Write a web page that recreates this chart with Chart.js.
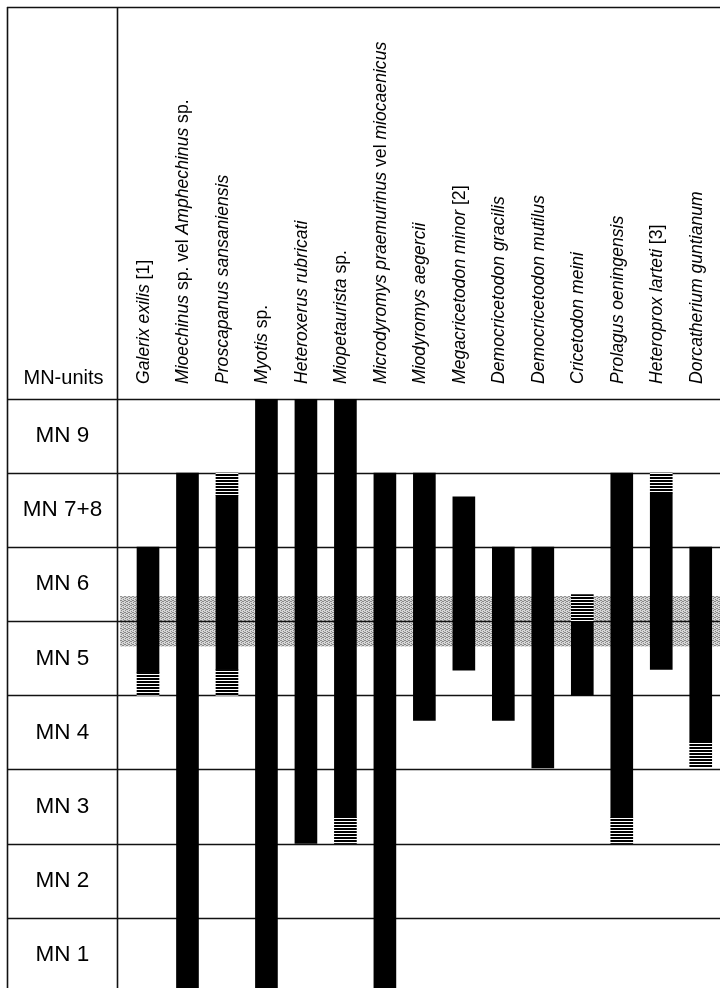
<!DOCTYPE html>
<html>
<head>
<meta charset="utf-8">
<script src="https://cdn.jsdelivr.net/npm/chart.js@4.4.1/dist/chart.umd.min.js"></script>
<style>
  html, body { margin: 0; padding: 0; background: #fff; overflow: hidden; }
  #wrap { width: 720px; height: 988px; position: relative; }
</style>
</head>
<body>
<div id="wrap"><canvas id="chart" width="720" height="988"></canvas></div>
<script>
// MN units, bottom to top: MN1 = 0..1, MN2 = 1..2, ... MN7+8 = 6..7, MN9 = 7..8
const mnUnits = ["MN 1", "MN 2", "MN 3", "MN 4", "MN 5", "MN 6", "MN 7+8", "MN 9"];

// taxon names as [text, italic] parts
const taxa = [
    [["Galerix exilis", true], [" [1]", false]],
    [["Mioechinus", true], [" sp. vel ", false], ["Amphechinus", true], [" sp.", false]],
    [["Proscapanus sansaniensis", true]],
    [["Myotis", true], [" sp.", false]],
    [["Heteroxerus rubricati", true]],
    [["Miopetaurista", true], [" sp.", false]],
    [["Microdyromys praemurinus", true], [" vel ", false], ["miocaenicus", true]],
    [["Miodyromys aegercii", true]],
    [["Megacricetodon minor", true], [" [2]", false]],
    [["Democricetodon gracilis", true]],
    [["Democricetodon mutilus", true]],
    [["Cricetodon meini", true]],
    [["Prolagus oeningensis", true]],
    [["Heteroprox larteti", true], [" [3]", false]],
    [["Dorcatherium guntianum", true]],
];

// certain range (solid black)
const rangeBottom = [4.31, 0, 4.35, 0, 2.0, 2.35, 0, 3.66, 4.34, 3.66, 3.02, 4.0, 2.35, 4.35, 3.37];
const rangeTop = [6.0, 7.0, 6.7, 8.0, 8.0, 8.0, 7.0, 7.0, 6.68, 6.0, 6.0, 5.0, 7.0, 6.73, 6.0];

// uncertain range ends (hatched)
const uncertainLow = [[4.0, 4.31], null, [4.0, 4.35], null, null, [2.0, 2.35], null, null, null, null, null, null, [2.0, 2.35], null, [3.03, 3.37]];
const uncertainHigh = [null, null, [6.7, 7.0], null, null, null, null, null, null, null, null, [5.0, 5.36], null, [6.73, 7.0], null];

// shaded MN5/MN6 boundary interval
const boundaryBand = [4.66, 5.34];

function makeHatch() {
    const c = document.createElement("canvas");
    c.width = 4;
    c.height = 3;
    const x = c.getContext("2d");
    x.fillStyle = "#fff";
    x.fillRect(0, 0, 4, 3);
    x.fillStyle = "#000";
    x.fillRect(0, 0, 4, 2);
    return x.createPattern(c, "repeat");
}

function makeStipple() {
    const c = document.createElement("canvas");
    c.width = 4;
    c.height = 4;
    const x = c.getContext("2d");
    x.fillStyle = "#d6d6d6";
    x.fillRect(0, 0, 4, 4);
    x.fillStyle = "#888";
    [[0, 0], [2, 1], [1, 2], [3, 3], [3, 1], [1, 0]].forEach((p) => x.fillRect(p[0], p[1], 1, 1));
    return x.createPattern(c, "repeat");
}

const FONT = "'Liberation Sans', Arial, sans-serif";

const tableFrame = {
    id: "tableFrame",
    beforeDatasetsDraw(chart) {
        const ctx = chart.ctx;
        const ys = chart.scales.y;
        const area = chart.chartArea;
        ctx.save();
        ctx.fillStyle = makeStipple();
        const bTop = ys.getPixelForValue(boundaryBand[1]);
        const bBot = ys.getPixelForValue(boundaryBand[0]);
        ctx.fillRect(area.left + 2, bTop, area.right - area.left, bBot - bTop);

        ctx.strokeStyle = "#111";
        ctx.lineWidth = 1.6;
        ctx.beginPath();
        for (let v = 1; v <= mnUnits.length; v++) {
            const py = Math.round(ys.getPixelForValue(v)) + 0.5;
            ctx.moveTo(7, py);
            ctx.lineTo(area.right, py);
        }
        ctx.moveTo(7, 7.5);
        ctx.lineTo(area.right, 7.5);
        ctx.moveTo(7.5, 7);
        ctx.lineTo(7.5, chart.height);
        ctx.moveTo(area.left - 0.5, 7);
        ctx.lineTo(area.left - 0.5, chart.height);
        ctx.stroke();
        ctx.restore();
    },
    afterDatasetsDraw(chart) {
        const ctx = chart.ctx;
        const xs = chart.scales.x;
        const ys = chart.scales.y;
        const colMid = (7 + chart.chartArea.left) / 2;
        ctx.save();
        ctx.fillStyle = "#000";
        ctx.textAlign = "center";
        ctx.textBaseline = "middle";
        ctx.font = "20px " + FONT;
        ctx.fillText("MN-units", colMid + 1, 378);
        ctx.font = "22.5px " + FONT;
        mnUnits.forEach((lab, i) => {
            ctx.fillText(lab, colMid, ys.getPixelForValue(i + 0.5));
        });

        ctx.textAlign = "left";
        ctx.textBaseline = "alphabetic";
        taxa.forEach((parts, i) => {
            ctx.save();
            ctx.translate(xs.getPixelForValue(i) + 1, 384);
            ctx.rotate(-Math.PI / 2);
            let cx = 0;
            parts.forEach((p) => {
                ctx.font = (p[1] ? "italic " : "") + "17.6px " + FONT;
                ctx.fillText(p[0], cx, 0);
                cx += ctx.measureText(p[0]).width;
            });
            ctx.restore();
        });
        ctx.restore();
    },
};

const ctx = document.getElementById("chart").getContext("2d");
const hatch = makeHatch();

function segments(list) {
    const out = [];
    list.forEach((seg, i) => {
        if (seg) out.push({ x: i, y: seg });
    });
    return out;
}

new Chart(ctx, {
    type: "bar",
    data: {
        datasets: [
            {
                label: "range",
                data: taxa.map((t, i) => ({ x: i, y: [rangeBottom[i], rangeTop[i]] })),
                backgroundColor: "#000",
                barThickness: 22,
                grouped: false,
                borderWidth: 0,
            },
            {
                label: "uncertain (lower)",
                data: segments(uncertainLow),
                backgroundColor: hatch,
                barThickness: 22,
                grouped: false,
                borderWidth: 0,
            },
            {
                label: "uncertain (upper)",
                data: segments(uncertainHigh),
                backgroundColor: hatch,
                barThickness: 22,
                grouped: false,
                borderWidth: 0,
            },
        ],
    },
    options: {
        responsive: false,
        animation: false,
        devicePixelRatio: 1,
        layout: { padding: { left: 118, top: 399, right: 0, bottom: 0 } },
        plugins: { legend: { display: false }, tooltip: { enabled: false } },
        scales: {
            x: { type: "linear", min: -0.76, max: 14.488, offset: false, display: false },
            y: { type: "linear", min: 0.05, max: 8, display: false },
        },
    },
    plugins: [tableFrame],
});
</script>
</body>
</html>
